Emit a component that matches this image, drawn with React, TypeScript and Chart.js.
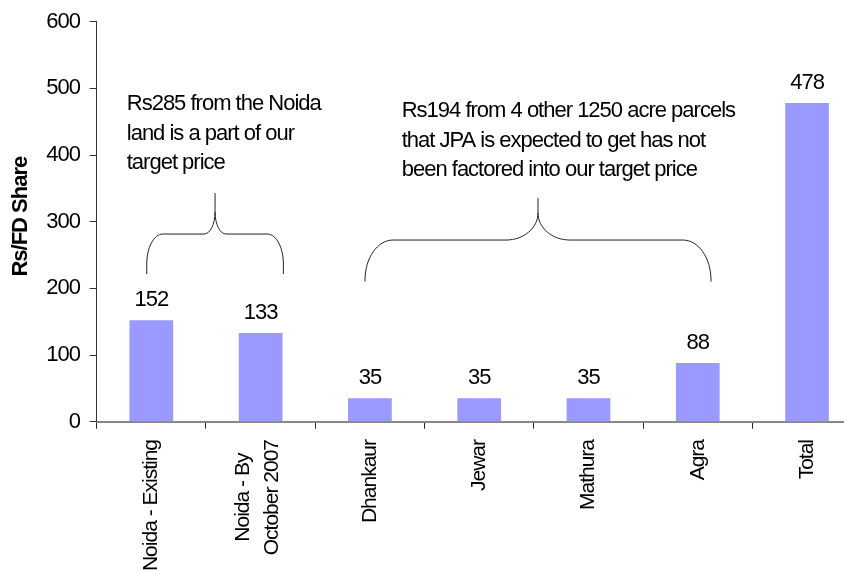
import React, { useEffect, useRef } from 'react';
import { Chart, registerables } from 'chart.js';

Chart.register(...registerables);

// ---- data ----
const CATEGORIES: (string | string[])[] = [
  'Noida - Existing',
  ['Noida - By', 'October 2007'],
  'Dhankaur',
  'Jewar',
  'Mathura',
  'Agra',
  'Total',
];
const VALUES = [152, 133, 35, 35, 35, 88, 478];
const Y_MIN = 0;
const Y_MAX = 600;
const Y_STEP = 100;
const Y_TITLE = 'Rs/FD Share';

// annotation text (anchored in category-index / value units)
const NOTE_LINES = [
  ['Rs285 from the Noida', 'land is a part of our', 'target price'],
  ['Rs194 from 4 other 1250 acre parcels', 'that JPA is expected to get has not', 'been factored into our target price'],
];
const NOTE_X = [-0.225, 2.291];
const NOTE_Y = [476.5, 466];

// braces (category-index / value units)
const BRACE_LEFT = [-0.042, 1.955];
const BRACE_RIGHT = [1.208, 5.121];
const BRACE_BOTTOM = [221.5, 210];
const BRACE_MID = [281.5, 272.5];
const BRACE_TOP = [343, 335.5];

const FONT = '"Liberation Sans", Arial, sans-serif';
const BAR_COLOR = '#9999FF';

const BRACE_SHAPE = [
  { crx: 16, cry: 30, mrx: 11, mry: 22 },
  { crx: 28, cry: 40, mrx: 32, mry: 27 },
];

const decorPlugin = {
  id: 'decor',
  beforeDraw(chart: any) {
    chart.ctx.letterSpacing = '-1px';
  },
  afterDraw(chart: any) {
    const ctx = chart.ctx as CanvasRenderingContext2D;
    const xs = chart.scales.x;
    const ys = chart.scales.y;
    const area = chart.chartArea;
    const x0 = xs.getPixelForValue(0);
    const step = xs.getPixelForValue(1) - x0;
    const xAt = (i: number) => x0 + i * step;

    ctx.save();
    (ctx as any).letterSpacing = '-1px';
    ctx.fillStyle = '#000';

    // value labels
    ctx.font = `22px ${FONT}`;
    ctx.textAlign = 'center';
    ctx.textBaseline = 'alphabetic';
    const meta = chart.getDatasetMeta(0);
    meta.data.forEach((bar: any, i: number) => {
      ctx.fillText(String(VALUES[i]), bar.x, bar.y - 14);
    });

    // category labels (rotated)
    ctx.font = `21px ${FONT}`;
    const labelTop = area.bottom + 18.3;
    CATEGORIES.forEach((lab, i) => {
      const lines = Array.isArray(lab) ? lab : [lab];
      const maxW = Math.max(...lines.map((l) => ctx.measureText(l).width));
      const cx = xAt(i) - (lines.length > 1 ? 2.5 : 0);
      lines.forEach((l, j) => {
        const lx = cx + (j - (lines.length - 1) / 2) * 29;
        ctx.save();
        ctx.translate(lx, labelTop + maxW / 2);
        ctx.rotate(-Math.PI / 2);
        ctx.textAlign = 'center';
        ctx.textBaseline = 'middle';
        ctx.fillText(l, 0, 0);
        ctx.restore();
      });
    });

    // y-axis title
    ctx.font = `bold 22px ${FONT}`;
    ctx.save();
    ctx.translate(area.left - 76, (area.top + area.bottom) / 2 - 5);
    ctx.rotate(-Math.PI / 2);
    ctx.textAlign = 'center';
    ctx.textBaseline = 'middle';
    ctx.fillText(Y_TITLE, 0, 0);
    ctx.restore();

    // notes
    ctx.font = `22px ${FONT}`;
    ctx.textAlign = 'left';
    ctx.textBaseline = 'middle';
    NOTE_LINES.forEach((lines, k) => {
      const nx = xAt(NOTE_X[k]);
      const ny = ys.getPixelForValue(NOTE_Y[k]);
      lines.forEach((l, j) => ctx.fillText(l, nx, ny + j * 29.5));
    });

    // braces
    ctx.strokeStyle = '#222';
    ctx.lineWidth = 1;
    const K = 0.5523;
    BRACE_LEFT.forEach((_, k) => {
      const L = xAt(BRACE_LEFT[k]);
      const R = xAt(BRACE_RIGHT[k]);
      const T = (L + R) / 2;
      const B = ys.getPixelForValue(BRACE_BOTTOM[k]);
      const H = ys.getPixelForValue(BRACE_MID[k]);
      const TOP = ys.getPixelForValue(BRACE_TOP[k]);
      const { crx, cry, mrx, mry } = BRACE_SHAPE[k];
      const cy = Math.min(cry, B - H);
      ctx.beginPath();
      ctx.moveTo(L, B);
      ctx.lineTo(L, H + cy);
      ctx.bezierCurveTo(L, H + cy - K * cy, L + crx - K * crx, H, L + crx, H);
      ctx.lineTo(T - mrx, H);
      ctx.bezierCurveTo(T - mrx + K * mrx, H, T, H - mry + K * mry, T, H - mry);
      ctx.lineTo(T, TOP);
      ctx.moveTo(R, B);
      ctx.lineTo(R, H + cy);
      ctx.bezierCurveTo(R, H + cy - K * cy, R - crx + K * crx, H, R - crx, H);
      ctx.lineTo(T + mrx, H);
      ctx.bezierCurveTo(T + mrx - K * mrx, H, T, H - mry + K * mry, T, H - mry);
      ctx.stroke();
    });

    ctx.restore();
  },
};

export default function App() {
  const ref = useRef<HTMLCanvasElement | null>(null);

  useEffect(() => {
    document.documentElement.style.overflow = 'hidden';
    const canvas = ref.current;
    if (!canvas) return;
    const chart = new Chart(canvas, {
      type: 'bar',
      data: {
        labels: CATEGORIES as any,
        datasets: [
          {
            data: VALUES,
            backgroundColor: BAR_COLOR,
            borderWidth: 0,
            barPercentage: 0.4,
            categoryPercentage: 1,
          },
        ],
      },
      options: {
        animation: false,
        responsive: false,
        devicePixelRatio: 1,
        layout: { padding: { top: 13.7, right: 16.3, left: 0, bottom: 0 } },
        plugins: { legend: { display: false }, tooltip: { enabled: false } },
        scales: {
          x: {
            z: 1,
            offset: true,
            grid: { drawOnChartArea: false, tickLength: 7, tickColor: '#222', offset: true },
            border: { color: '#888', width: 2 },
            ticks: { display: false },
            afterFit: (s: any) => {
              s.height = 152.3;
            },
          },
          y: {
            min: Y_MIN,
            max: Y_MAX,
            ticks: {
              stepSize: Y_STEP,
              color: '#000',
              padding: 9.7,
              font: { family: FONT, size: 22, lineHeight: 0.1 },
            },
            grid: { drawOnChartArea: false, tickLength: 7, tickColor: '#333' },
            border: { color: '#333', width: 1 },
            afterFit: (s: any) => {
              s.width = 88.7;
            },
          },
        },
      },
      plugins: [decorPlugin],
    });
    return () => chart.destroy();
  }, []);

  return (
    <div style={{ width: 844, height: 566, overflow: 'hidden' }}>
      <canvas ref={ref} width={870} height={566} style={{ display: 'block' }} />
    </div>
  );
}
